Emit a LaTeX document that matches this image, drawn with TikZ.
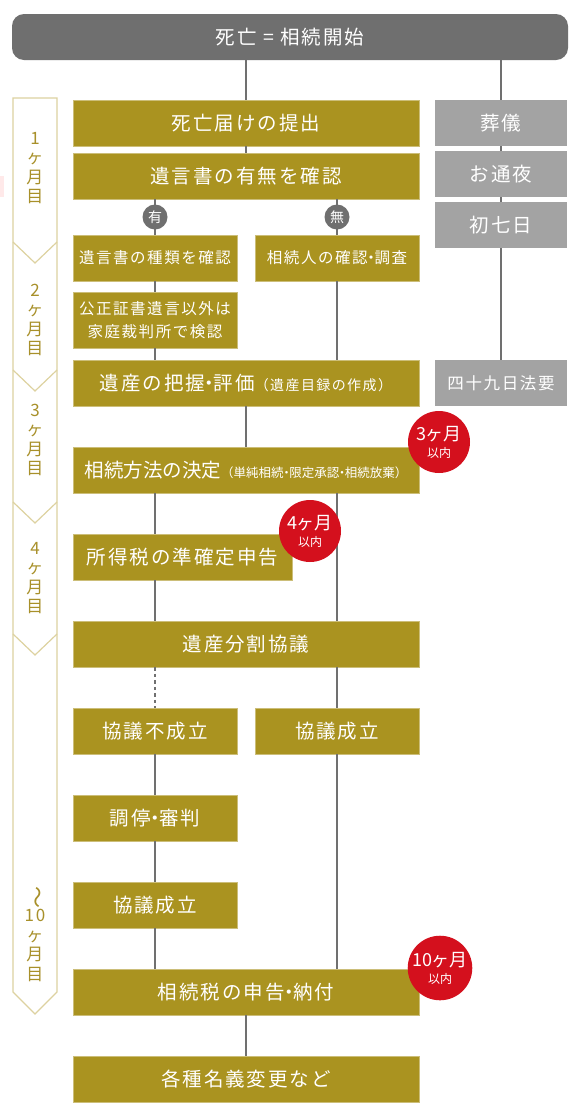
\documentclass[tikz,border=0pt]{standalone}
\usepackage{fontspec}
\setmainfont{Noto Sans CJK JP}[LetterSpace=10]
\newfontfamily\jptight{Noto Sans CJK JP}
\definecolor{gold}{HTML}{AA9320}
\definecolor{pillgray}{HTML}{6F6F6F}
\definecolor{boxgray}{HTML}{A3A3A3}
\definecolor{linegray}{HTML}{707070}
\definecolor{badgered}{HTML}{D4101D}
\definecolor{railgold}{HTML}{DDD2A0}
\definecolor{monthgold}{HTML}{A8902A}
\newcommand\boxfont{\fontsize{19.5}{22}\selectfont}
\newcommand\subfont{\fontsize{15.5}{23}\selectfont}
\newcommand\notefont{\fontsize{14}{16}\selectfont}
\newcommand\finefont{\jptight\fontsize{12.5}{14}\selectfont}
\newcommand\monthfont{\fontsize{17}{19.5}\selectfont}
\newcommand\badgefont{\jptight\fontsize{18}{18}\selectfont}
\newcommand\withinfont{\jptight\fontsize{12}{12}\selectfont}
\newcommand\ndot{\kern-.28em・\kern-.28em}

\begin{document}
\begin{tikzpicture}[x=1pt,y=-1pt,
  goldbox/.style={fill=gold,draw=gold!60!white,line width=0.5pt,text=white,inner sep=0pt,minimum height=46pt,align=center,font=\boxfont},
  widebox/.style={minimum width=346pt},
  halfbox/.style={minimum width=164pt},
  graybox/.style={fill=boxgray,text=white,inner sep=0pt,minimum width=132pt,minimum height=46pt,font=\boxfont},
  link/.style={draw=linegray,line width=2.5pt},
  yesno/.style={circle,fill=pillgray,text=white,inner sep=0pt,minimum size=25pt,font=\jptight\fontsize{14}{14}\selectfont},
  badge/.style={circle,fill=badgered,text=white,inner sep=0pt,minimum size=62pt,align=center,font=\jptight\fontsize{12}{17}\selectfont},
  month/.style={text=monthgold,inner sep=0pt,align=center,font=\monthfont},
  rail/.style={draw=railgold,line width=1.2pt}]
\useasboundingbox[fill=white] (0,0) rectangle (588,1112);
\fill[pink!35] (0,176) rectangle (4,197);
\draw[rail] (13,98) -- (57,98) -- (57,992) -- (35,1014) -- (13,992) -- cycle;
\foreach \yy in {242,370,502,634}
  \draw[rail] (13,\yy) -- (35,\yy+21) -- (57,\yy);
\node[month] (m1) at (35,168) {1\\ヶ\\月\\目};
\node[month] (m2) at (35,320) {2\\ヶ\\月\\目};
\node[month] (m3) at (35,440) {3\\ヶ\\月\\目};
\node[month] (m4) at (35,578) {4\\ヶ\\月\\目};
\node[month] (m10) at (35,934) {{\fontsize{22}{22}\selectfont\rotatebox{-90}{〜}}\\10\\ヶ\\月\\目};

\node[fill=pillgray,rounded corners=12pt,text=white,inner sep=0pt,minimum width=556pt,minimum height=46pt,font=\boxfont] (start) at (290,37) {死亡 = 相続開始};

\node[goldbox,widebox] (b1) at (246,123) {死亡届けの提出};
\node[goldbox,widebox] (b2) at (246,176) {遺言書の有無を確認};
\node[goldbox,halfbox,font=\subfont] (b3) at (155,258) {遺言書の種類を確認};
\node[goldbox,halfbox,font=\subfont] (b4) at (337,258) {相続人の確認\ndot 調査};
\node[goldbox,halfbox,font=\subfont,minimum height=56pt] (b5) at (155,320) {公正証書遺言以外は\\家庭裁判所で検認};
\node[goldbox,widebox] (b6) at (246,383) {遺産の把握\ndot 評価{\notefont（遺産目録の作成）}};
\node[goldbox,widebox] (b7) at (246,470) {{\jptight 相続方法の決定}{\finefont（単純相続\ndot 限定承認\ndot 相続放棄）}};
\node[goldbox,minimum width=219pt] (b8) at (182.5,557) {所得税の準確定申告};
\node[goldbox,widebox] (b9) at (246,644) {遺産分割協議};
\node[goldbox,halfbox] (b10) at (155,731) {協議不成立};
\node[goldbox,halfbox] (b11) at (337,731) {協議成立};
\node[goldbox,halfbox] (b12) at (155,818) {調停\ndot 審判};
\node[goldbox,halfbox] (b13) at (155,905) {協議成立};
\node[goldbox,widebox] (b14) at (246,992) {相続税の申告\ndot 納付};
\node[goldbox,widebox] (b15) at (246,1079) {各種名義変更など};

\node[graybox] (g1) at (501,123) {葬儀};
\node[graybox] (g2) at (501,174) {お通夜};
\node[graybox] (g3) at (501,225) {初七日};
\node[graybox,font=\fontsize{16.5}{20}\selectfont] (g4) at (501,383) {四十九日法要};

\draw[link] (start.south -| b1) -- (b1.north);
\draw[link] (b1) -- (b2);
\draw[link] (b2.south -| b3) -- (b3.north);
\draw[link] (b2.south -| b4) -- (b4.north);
\draw[link] (b3) -- (b5);
\draw[link] (b5.south) -- (b6.north -| b5);
\draw[link] (b4.south) -- (b6.north -| b4);
\draw[link] (b6) -- (b7);
\draw[link] (b7.south -| b3) -- (b8.north -| b3);
\draw[link] (b7.south -| b4) -- (b9.north -| b4);
\draw[link] (b8.south -| b3) -- (b9.north -| b3);
\draw[link,dash pattern=on 3.5pt off 3pt] (b9.south -| b10) -- (b10.north);
\draw[link] (b9.south -| b11) -- (b11.north);
\draw[link] (b10) -- (b12);
\draw[link] (b12) -- (b13);
\draw[link] (b13.south) -- (b14.north -| b13);
\draw[link] (b11.south) -- (b14.north -| b11);
\draw[link] (b14) -- (b15);
\draw[link] (start.south -| g1) -- (g1.north);
\draw[link] (g1) -- (g2);
\draw[link] (g2) -- (g3);
\draw[link] (g3) -- (g4);

\node[yesno] (yes) at (155,217) {有};
\node[yesno] (no) at (337,217) {無};
\node[badge] (k3) at (439,442) {{\badgefont 3ヶ月}\\{\withinfont 以内}};
\node[badge] (k4) at (310,531) {{\badgefont 4ヶ月}\\{\withinfont 以内}};
\node[badge] (k10) at (440,968) {{\badgefont 10ヶ月}\\{\withinfont 以内}};
\end{tikzpicture}
\end{document}
